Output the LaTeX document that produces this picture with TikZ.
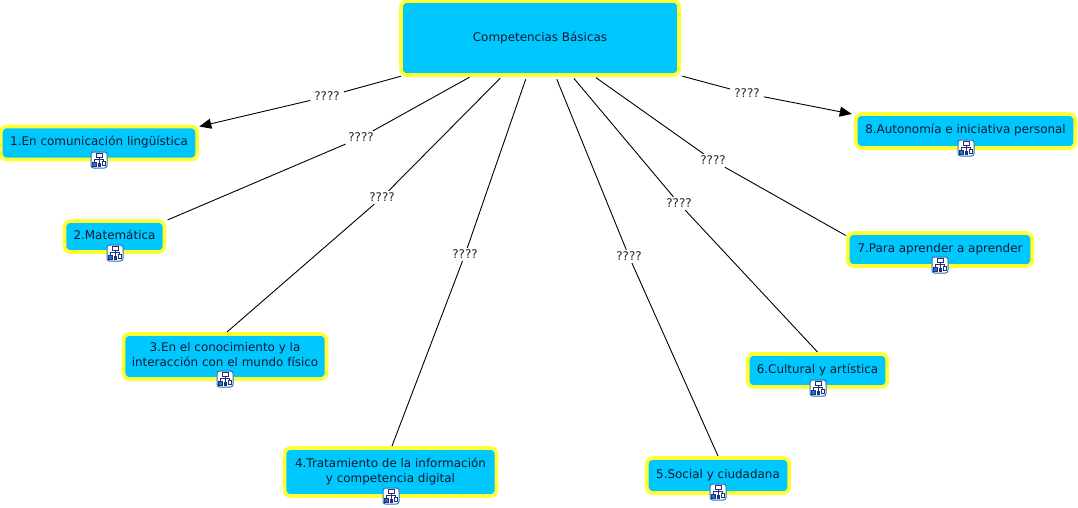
\documentclass[tikz,border=0pt]{standalone}
\usepackage{fontspec}
\setmainfont{DejaVu Sans}
\usetikzlibrary{arrows.meta}
\definecolor{boxfill}{HTML}{00C8FF}
\definecolor{boxedge}{HTML}{FFFF33}
\definecolor{iconedge}{HTML}{2F6FC0}
\definecolor{icondark}{HTML}{20307A}
\definecolor{textcol}{HTML}{0A1A30}
\tikzset{
  concept/.style={draw=boxedge,fill=boxfill,line width=3.6pt,rounded corners=6pt,outer sep=0pt,inner sep=2pt,
    align=center,text=textcol,text depth=4pt,font=\fontsize{11.95}{15.5}\selectfont},
  linklabel/.style={fill=white,inner xsep=4pt,inner ysep=2pt,text=black!85,font=\fontsize{11.95}{12}\selectfont},
  link/.style={line width=0.9pt,black},
  linkarrow/.style={link,-{Triangle[length=12pt,width=10pt]}},
  fromroot/.style={shorten <=4.5pt},
  mapicon/.pic={
    \draw[iconedge,fill=white,line width=1pt,rounded corners=2.5pt] (-8,-8) rectangle (8,8);
    \draw[icondark,line width=0.8pt] (0,-3) -- (0,3) (-4.5,2) -- (-4.5,-1) -- (4.5,-1) -- (4.5,1);
    \draw[icondark,fill=white,line width=0.8pt] (-3,-6.5) rectangle (3,-3);
    \draw[icondark,fill=iconedge,line width=0.6pt] (-6.5,2) rectangle (-3,6);
    \fill[icondark] (-1.5,3) rectangle (1.5,6.5);
    \draw[icondark,fill=white,line width=0.8pt] (3,1) rectangle (6.5,5);
  }
}
\begin{document}
\begin{tikzpicture}[x=1pt,y=-1pt]
\useasboundingbox (0,0) rectangle (1078,508);
\fill[white] (0,0) rectangle (1078,508);
% concepts
\node[concept,text depth=2.5pt,minimum width=278pt,minimum height=74pt] (root) at (540,38) {Competencias Básicas};
\node[concept,minimum width=196.5pt,minimum height=33pt] (c1) at (99,143) {1.En comunicación lingüística};
\node[concept,minimum width=100pt,minimum height=31pt] (c2) at (114.5,236.5) {2.Matemática};
\node[concept,minimum width=203pt,minimum height=45pt] (c3) at (225,356.5) {3.En el conocimiento y la\\interacción con el mundo físico};
\node[concept,minimum width=212pt,minimum height=48pt] (c4) at (390.5,472) {4.Tratamiento de la información\\y competencia digital};
\node[concept,minimum width=142.5pt,minimum height=35pt] (c5) at (718,475.5) {5.Social y ciudadana};
\node[concept,minimum width=139.5pt,minimum height=33pt] (c6) at (817.5,370.5) {6.Cultural y artística};
\node[concept,minimum width=184.5pt,minimum height=33pt] (c7) at (940,249.5) {7.Para aprender a aprender};
\node[concept,minimum width=219.5pt,minimum height=34pt] (c8) at (965.5,131) {8.Autonomía e iniciativa personal};
% link labels
\node[linklabel] (l1) at (327,96.5) {????};
\node[linklabel] (l2) at (361,137.5) {????};
\node[linklabel] (l3) at (382,197.5) {????};
\node[linklabel] (l4) at (465,254.5) {????};
\node[linklabel] (l5) at (629,256.5) {????};
\node[linklabel] (l6) at (679,203.5) {????};
\node[linklabel] (l7) at (713,160.5) {????};
\node[linklabel] (l8) at (747,93.5) {????};
% connectors
\draw[link,fromroot] (root) -- (l1);
\draw[link,fromroot] (root) -- (l2);
\draw[link,fromroot] (root) -- (l3);
\draw[link,fromroot] (root) -- (l4);
\draw[link,fromroot] (root) -- (l5);
\draw[link,fromroot] (root) -- (l6);
\draw[link,fromroot] (root) -- (l7);
\draw[link,fromroot] (root) -- (l8);
\draw[linkarrow] (l1) -- ([shift={(2,0)}]c1.north east);
\draw[link] (l2) -- ([shift={(3,-1)}]c2.north east);
\draw[link] (l3) -- ([shift={(2,-2)}]c3.north);
\draw[link] (l4) -- ([shift={(1.5,-2)}]c4.north);
\draw[link] (l5) -- ([shift={(0,-2)}]c5.north);
\draw[link] (l6) -- ([shift={(0,-2)}]c6.north);
\draw[link] (l7) -- ([shift={(-2,2.5)}]c7.north west);
\draw[linkarrow] (l8) -- ([shift={(-4,0)}]c8.north west);
% map icons
\pic at (99,160) {mapicon};
\pic at (115,253) {mapicon};
\pic at (225,379) {mapicon};
\pic at (391,496) {mapicon};
\pic at (718,492) {mapicon};
\pic at (818,388) {mapicon};
\pic at (940,265) {mapicon};
\pic at (966,148) {mapicon};
\end{tikzpicture}
\end{document}
